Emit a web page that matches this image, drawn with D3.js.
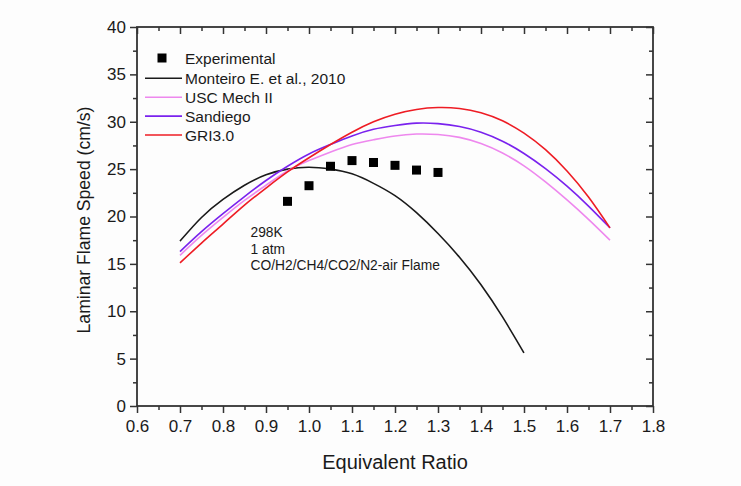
<!DOCTYPE html>
<html>
<head>
<meta charset="utf-8">
<script src="https://cdn.jsdelivr.net/npm/d3@7"></script>
<style>
  html, body { margin: 0; padding: 0; background: #fdfdfd; }
  svg { display: block; }
  text { font-family: "Liberation Sans", Arial, sans-serif; fill: #1a1a1a; }
</style>
</head>
<body>
<svg id="chart" width="741" height="486"></svg>
<script>
// ---- data ----
const phiModel = [0.70,0.75,0.80,0.85,0.90,0.95,1.00,1.05,1.10,1.15,1.20,1.25,1.30,1.35,1.40,1.45,1.50,1.55,1.60,1.65,1.70];
const phiMonteiro = [0.70,0.75,0.80,0.85,0.90,0.95,1.00,1.05,1.10,1.15,1.20,1.25,1.30,1.35,1.40,1.45,1.50];
const monteiro = [17.4,19.9,21.8,23.3,24.4,25.0,25.2,25.0,24.5,23.5,22.2,20.4,18.2,15.7,12.8,9.4,5.6];
const uscMech  = [15.9,18.0,19.9,21.7,23.3,24.8,25.9,26.8,27.6,28.1,28.5,28.7,28.65,28.35,27.7,26.7,25.35,23.65,21.75,19.7,17.5];
const sandiego = [16.3,18.4,20.3,22.1,23.8,25.3,26.6,27.6,28.5,29.2,29.6,29.85,29.8,29.5,28.9,27.95,26.65,25.05,23.2,21.1,18.8];
const gri30    = [15.1,17.2,19.2,21.2,23.0,24.7,26.2,27.6,28.9,30.0,30.8,31.3,31.5,31.4,30.95,30.1,28.8,27.05,24.8,22.05,18.8];
const expPhi   = [0.95,1.00,1.05,1.10,1.15,1.20,1.25,1.30];
const expSpeed = [21.6,23.25,25.3,25.9,25.7,25.4,24.9,24.65];
const xTicks = [0.6,0.7,0.8,0.9,1.0,1.1,1.2,1.3,1.4,1.5,1.6,1.7,1.8];
const xMinor = [0.65,0.75,0.85,0.95,1.05,1.15,1.25,1.35,1.45,1.55,1.65,1.75];
const yTicks = [0,5,10,15,20,25,30,35,40];
const yMinor = [2.5,7.5,12.5,17.5,22.5,27.5,32.5,37.5];
const seriesNames = ["Monteiro E. et al., 2010","USC Mech II","Sandiego","GRI3.0"];
const seriesColors = ["#1a1a1a","#ee88ee","#7a22ee","#ee1c24"];
const annotation = ["298K","1 atm","CO/H2/CH4/CO2/N2-air Flame"];

// ---- chart ----
const svg = d3.select("#chart");
const x = d3.scaleLinear().domain([0.6,1.8]).range([137,653]);
const y = d3.scaleLinear().domain([0,40]).range([406,27]);
const axisColor = "#333";

function styleAxis(g){
  g.selectAll(".domain").remove();
  g.selectAll("line").attr("stroke", axisColor).attr("stroke-width", 1.5);
}

// frame
svg.append("rect")
  .attr("x", x(0.6)).attr("y", y(40))
  .attr("width", x(1.8)-x(0.6)).attr("height", y(0)-y(40))
  .attr("fill","none").attr("stroke",axisColor).attr("stroke-width",1.8);

// bottom axis
const gB = svg.append("g").attr("transform",`translate(0,${y(0)})`)
  .call(d3.axisBottom(x).tickValues(xTicks).tickSize(7).tickPadding(7).tickFormat(d3.format(".1f")));
styleAxis(gB);
gB.selectAll("text").attr("font-size",17).attr("fill","#1a1a1a").attr("font-family","Liberation Sans, Arial, sans-serif");
styleAxis(svg.append("g").attr("transform",`translate(0,${y(0)})`)
  .call(d3.axisBottom(x).tickValues(xMinor).tickSize(4).tickFormat("")));

// left axis
const gL = svg.append("g").attr("transform",`translate(${x(0.6)},0)`)
  .call(d3.axisLeft(y).tickValues(yTicks).tickSize(7).tickPadding(4).tickFormat(d3.format("d")));
styleAxis(gL);
gL.selectAll("text").attr("font-size",17).attr("fill","#1a1a1a").attr("font-family","Liberation Sans, Arial, sans-serif");
styleAxis(svg.append("g").attr("transform",`translate(${x(0.6)},0)`)
  .call(d3.axisLeft(y).tickValues(yMinor).tickSize(4).tickFormat("")));

// top axis (ticks inward)
styleAxis(svg.append("g").attr("transform",`translate(0,${y(40)})`)
  .call(d3.axisBottom(x).tickValues(xTicks).tickSize(7).tickFormat("")));
styleAxis(svg.append("g").attr("transform",`translate(0,${y(40)})`)
  .call(d3.axisBottom(x).tickValues(xMinor).tickSize(4).tickFormat("")));
// right axis (ticks inward)
styleAxis(svg.append("g").attr("transform",`translate(${x(1.8)},0)`)
  .call(d3.axisLeft(y).tickValues(yTicks).tickSize(7).tickFormat("")));
styleAxis(svg.append("g").attr("transform",`translate(${x(1.8)},0)`)
  .call(d3.axisLeft(y).tickValues(yMinor).tickSize(4).tickFormat("")));

// axis titles
svg.append("text").attr("x",395).attr("y",469).attr("text-anchor","middle")
  .attr("font-size",20).text("Equivalent Ratio");
svg.append("text").attr("transform","translate(90,220) rotate(-90)").attr("text-anchor","middle")
  .attr("font-size",17.6).text("Laminar Flame Speed (cm/s)");

// lines
const line = d3.line().x(d=>x(d[0])).y(d=>y(d[1])).curve(d3.curveNatural);
const series = [
  {phi: phiMonteiro, v: monteiro},
  {phi: phiModel, v: uscMech},
  {phi: phiModel, v: sandiego},
  {phi: phiModel, v: gri30}
];
series.forEach((s,i)=>{
  svg.append("path").datum(s.phi.map((p,j)=>[p,s.v[j]]))
    .attr("d",line).attr("fill","none")
    .attr("stroke",seriesColors[i]).attr("stroke-width",1.6);
});

// experimental points
const sq = 9;
svg.append("g").selectAll("rect").data(expPhi.map((p,j)=>[p,expSpeed[j]])).join("rect")
  .attr("x",d=>x(d[0])-sq/2).attr("y",d=>y(d[1])-sq/2)
  .attr("width",sq).attr("height",sq).attr("fill","#000");

// legend
const lg = svg.append("g");
lg.append("rect").attr("x",162-sq/2).attr("y",58-sq/2).attr("width",sq).attr("height",sq).attr("fill","#000");
lg.append("text").attr("x",185).attr("y",63.5).attr("font-size",15.5).text("Experimental");
seriesNames.forEach((n,i)=>{
  const yy = 78.3 + i*18.9;
  lg.append("line").attr("x1",145).attr("x2",182).attr("y1",yy).attr("y2",yy)
    .attr("stroke",seriesColors[i]).attr("stroke-width",1.6);
  lg.append("text").attr("x",185).attr("y",yy+5.5).attr("font-size",15.5).text(n);
});

// annotation
annotation.forEach((t,i)=>{
  svg.append("text").attr("x",250.5).attr("y",237.3+i*16.3).attr("font-size",13.8).text(t);
});
</script>
</body>
</html>
